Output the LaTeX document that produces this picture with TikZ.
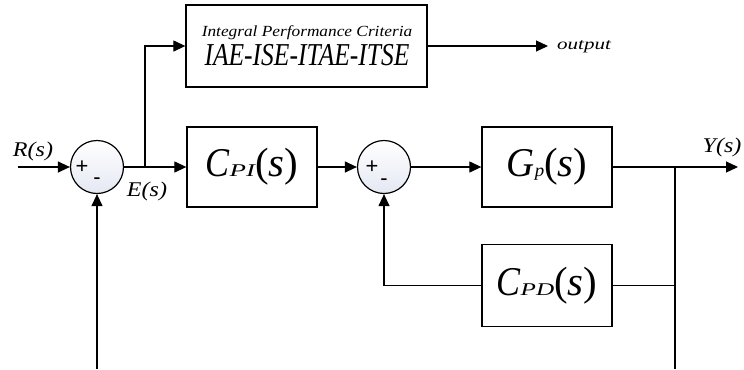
\documentclass[tikz,border=0pt]{standalone}
\usepackage{fontspec}
\setmainfont{Liberation Serif}
\newfontfamily\sumfont{Liberation Sans}
\usetikzlibrary{arrows.meta,calc}
\newcommand{\fsz}[1]{\fontsize{#1}{#1}\selectfont}
\newcommand{\hsc}[2]{\scalebox{#1}[1]{#2}}
\newcommand{\blab}[4]{\hsc{#3}{\fsz{41}\itshape #1}\hsc{#4}{\fsz{18}\itshape #2}{\fsz{41}(\itshape s\upshape)}}
\definecolor{sumfill}{RGB}{228,232,242}
\begin{document}
\begin{tikzpicture}[x=1bp,y=-1bp,
  line/.style={line width=1.2bp},
  arr/.style={line, -{Triangle[length=12bp,width=11bp]}},
  blk/.style={draw, line width=1.3bp, rectangle, inner sep=0, minimum width=130bp, minimum height=80bp},
  sumn/.style={draw, circle, line width=1.2bp, minimum size=53bp, inner sep=0, top color=white, bottom color=sumfill},
  lbl/.style={font=\itshape\fsz{21}, inner sep=0},
  sgn/.style={font=\sumfont\fsz{22}, inner sep=0},
]
\useasboundingbox (0,0) rectangle (744,369);
% blocks
\node[blk, minimum width=241bp, minimum height=82bp] (ipc) at (306.5,46) {};
\node[anchor=base, inner sep=0] (ipc1) at (307,36) {\hsc{1.12}{\fsz{15.5}\itshape Integral Performance Criteria}};
\node[anchor=base, inner sep=0] (ipc2) at (307,65) {\hsc{0.8}{\fsz{32}\itshape IAE-ISE-ITAE-ITSE}};
\node[blk] (cpi) at (252,167) {\blab{C}{PI}{0.88}{1.5}};
\node[blk] (gp) at (547,167) {\blab{G}{p}{0.95}{1.05}};
\node[blk, minimum height=82bp] (cpd) at (547,285.5) {\blab{C}{PD}{0.88}{1.4}};
% summing junctions
\node[sumn] (sum1) at (97,167) {};
\node[sumn] (sum2) at (384,167) {};
\node[sgn] (p1) at (82,167.5) {+};
\node[sgn] (m1) at (97,181) {-};
\node[sgn] (p2) at (372,167.5) {+};
\node[sgn] (m2) at (384,182) {-};
% coordinates
\coordinate (rin) at (18,167);
\coordinate (b1) at (145,167);
\coordinate (b2) at (675,167);
\coordinate (yout) at (738,167);
\coordinate (oout) at (548,46);
\coordinate (fb1) at (97,369);
\coordinate (fb2) at (675,369);
% connectors
\draw[arr] (rin) -- (sum1);
\draw[line] (sum1) -- (b1);
\draw[arr] (b1) -- (cpi);
\draw[arr] (b1) |- (ipc.west);
\draw[arr] (ipc.east) -- (oout);
\draw[arr] (cpi) -- (sum2);
\draw[arr] (sum2) -- (gp);
\draw[arr] (gp) -- (yout);
\draw[line] (b2) -- (fb2);
\draw[line] (cpd.east) -- (cpd.east -| b2);
\draw[arr] (cpd.west) -| (sum2.south);
\draw[arr] (fb1) -- (sum1.south);
% labels
\node[lbl] (rl) at (33,151) {\hsc{1.15}{R(s)}};
\node[lbl] (el) at (147,191) {\hsc{1.15}{E(s)}};
\node[lbl] (yl) at (722,147) {\hsc{1.15}{Y(s)}};
\node[inner sep=0] (ol) at (584,47) {\hsc{1.32}{\fsz{16}\itshape output}};
\end{tikzpicture}
\end{document}
